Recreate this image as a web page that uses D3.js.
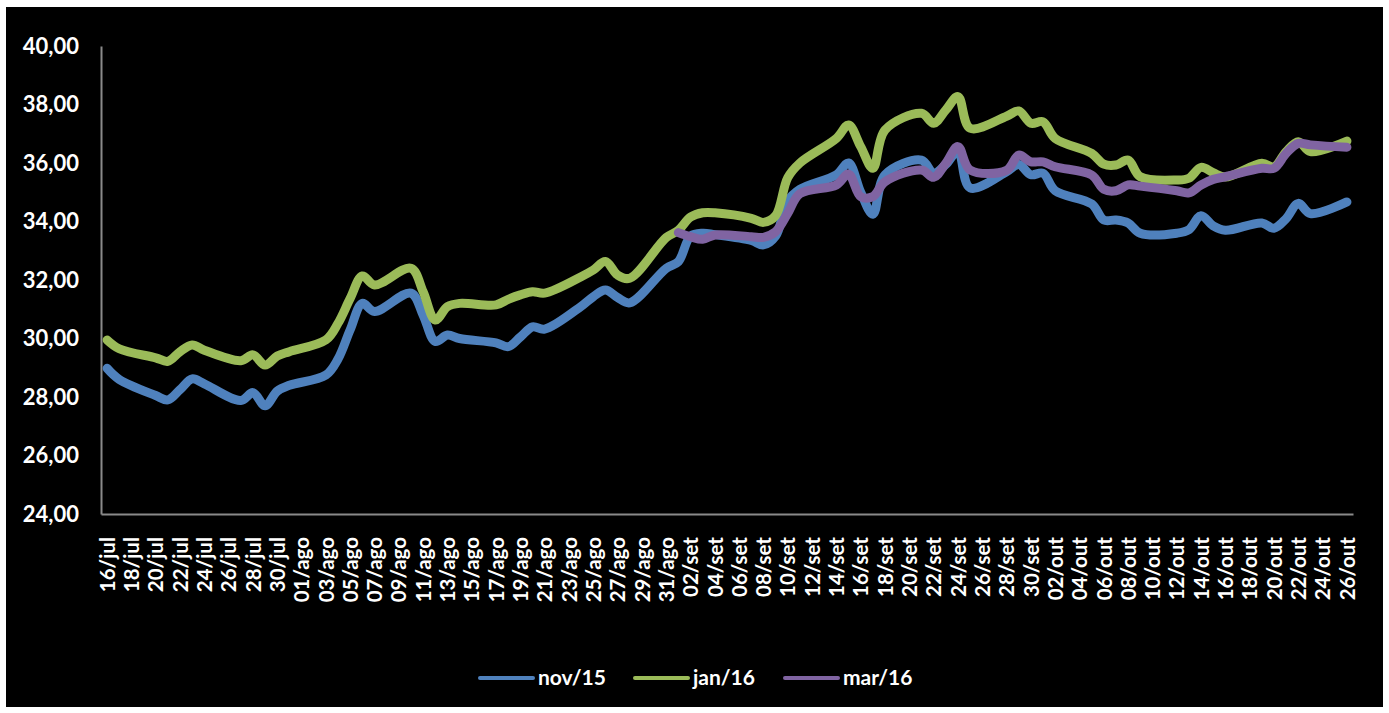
<!DOCTYPE html>
<html><head><meta charset="utf-8">
<script src="https://cdn.jsdelivr.net/npm/d3@7"></script>
<style>html,body{margin:0;padding:0;background:#fff;} svg{display:block;}</style>
</head><body><svg id="chart" width="1389" height="713"></svg>
<script>
const dates = ["16/jul","17/jul","20/jul","21/jul","22/jul","23/jul","24/jul","27/jul","28/jul","29/jul","30/jul","31/jul",
"03/ago","04/ago","05/ago","06/ago","07/ago","10/ago","11/ago","12/ago","13/ago","14/ago","17/ago","18/ago","19/ago","20/ago","21/ago","24/ago","25/ago","26/ago","27/ago","28/ago","31/ago",
"01/set","02/set","03/set","04/set","07/set","08/set","09/set","10/set","11/set","14/set","15/set","16/set","17/set","18/set","21/set","22/set","23/set","24/set","25/set","28/set","29/set","30/set",
"01/out","02/out","05/out","06/out","07/out","08/out","09/out","12/out","13/out","14/out","15/out","16/out","19/out","20/out","21/out","22/out","23/out","26/out"];

const nov15 = [28.98,28.6,28.05,27.9,28.25,28.62,28.45,27.88,28.15,27.7,28.2,28.4,
28.75,29.3,30.3,31.2,30.92,31.55,30.8,29.9,30.12,30.0,29.85,29.72,30.05,30.4,30.32,31.1,31.43,31.66,31.4,31.22,32.4,
32.63,33.5,33.6,33.55,33.35,33.2,33.5,34.7,35.1,35.6,36.0,35.0,34.25,35.6,36.1,35.65,35.95,36.4,35.15,35.7,35.95,35.6,
35.65,35.05,34.6,34.05,34.05,33.95,33.6,33.6,33.72,34.2,33.85,33.7,33.95,33.77,34.1,34.62,34.27,34.67];

const jan16 = [29.95,29.65,29.34,29.22,29.55,29.78,29.6,29.24,29.44,29.09,29.4,29.55,
29.95,30.52,31.37,32.14,31.83,32.4,31.6,30.63,31.09,31.2,31.15,31.34,31.49,31.6,31.55,32.11,32.34,32.63,32.17,32.06,33.45,
33.7,34.15,34.3,34.3,34.11,33.97,34.2,35.5,36.0,36.84,37.3,36.56,35.82,37.13,37.7,37.36,37.81,38.27,37.19,37.6,37.78,37.36,
37.41,36.84,36.33,35.96,35.93,36.1,35.53,35.42,35.48,35.85,35.67,35.52,35.99,35.87,36.39,36.73,36.39,36.75];

const mar16 = [null,null,null,null,null,null,null,null,null,null,null,null,
null,null,null,null,null,null,null,null,null,null,null,null,null,null,null,null,null,null,null,null,null,
33.62,33.48,33.39,33.54,33.48,33.46,33.65,34.28,34.95,35.25,35.62,34.85,34.85,35.36,35.76,35.51,35.99,36.56,35.76,35.75,36.27,36.04,
36.04,35.87,35.59,35.1,35.05,35.25,35.21,35.05,34.98,35.25,35.44,35.53,35.82,35.82,36.33,36.67,36.62,36.54];

const yTicks = [24,26,28,30,32,34,36,38,40];
const xTickLabels = ["16/jul","18/jul","20/jul","22/jul","24/jul","26/jul","28/jul","30/jul",
"01/ago","03/ago","05/ago","07/ago","09/ago","11/ago","13/ago","15/ago","17/ago","19/ago","21/ago","23/ago","25/ago","27/ago","29/ago","31/ago",
"02/set","04/set","06/set","08/set","10/set","12/set","14/set","16/set","18/set","20/set","22/set","24/set","26/set","28/set","30/set",
"02/out","04/out","06/out","08/out","10/out","12/out","14/out","16/out","18/out","20/out","22/out","24/out","26/out"];
const seriesNames = ["nov/15","jan/16","mar/16"];
const seriesColors = ["#4F81BD","#9BBB59","#8064A2"];

(function(){
const monthIdx = {jan:0,fev:1,mar:2,abr:3,mai:4,jun:5,jul:6,ago:7,set:8,out:9,nov:10,dez:11};
const parse = s => { const [d,m] = s.split("/"); return new Date(Date.UTC(2015, monthIdx[m], +d)); };
const DAY = 86400000;

const svg = d3.select("#chart");
const font = "Lato, 'Open Sans', sans-serif";

svg.append("rect").attr("x",6).attr("y",7).attr("width",1377).attr("height",700).attr("fill","#000");

const pLeft = 101, pRight = 1353, pTop = 46, pBottom = 514;
const first = parse(dates[0]), last = parse(dates[dates.length-1]);
const x = d3.scaleUtc().domain([new Date(+first - DAY/2), new Date(+last + DAY/2)]).range([pLeft, pRight]);
const y = d3.scaleLinear().domain([24,40]).range([pBottom, pTop]);

// Y axis
const yAxis = svg.append("g").attr("transform",`translate(${pLeft},0)`)
  .call(d3.axisLeft(y).tickValues(yTicks).tickSize(0).tickSizeOuter(0).tickPadding(22)
    .tickFormat(d => d.toFixed(2).replace(".",",")));
yAxis.select(".domain").attr("stroke","#8a8a8a").attr("stroke-width",2);
yAxis.selectAll("text").attr("fill","#fff").style("font-family",font).style("font-weight","bold").style("font-size","22px");

// X axis
const xAxis = svg.append("g").attr("transform",`translate(0,${pBottom})`)
  .call(d3.axisBottom(x).tickValues(xTickLabels.map(parse)).tickSize(0).tickSizeOuter(0)
    .tickFormat((d,i) => xTickLabels[i]));
xAxis.select(".domain").attr("stroke","#8a8a8a").attr("stroke-width",2);
xAxis.selectAll("text")
  .attr("fill","#fff").style("font-family",font).style("font-weight","bold").style("font-size","20.5px")
  .attr("text-anchor","end").attr("y",0).attr("dy","0.35em")
  .attr("transform","translate(0,23) rotate(-90)");

// Lines
const seriesData = [nov15, jan16, mar16];
const line = d3.line()
  .defined(d => d.v != null)
  .x(d => x(d.t)).y(d => y(d.v))
  .curve(d3.curveCatmullRom.alpha(0.5));
seriesData.forEach((vals, i) => {
  const pts = dates.map((s, j) => ({t: parse(s), v: vals[j]}));
  svg.append("path").datum(pts).attr("d", line)
    .attr("fill","none").attr("stroke",seriesColors[i]).attr("stroke-width",9)
    .attr("stroke-linecap","round").attr("stroke-linejoin","round");
});

// Legend
const legendX = [480, 635, 785];
const lg = svg.append("g");
seriesNames.forEach((n, i) => {
  lg.append("line").attr("x1",legendX[i]).attr("x2",legendX[i]+53).attr("y1",678).attr("y2",678)
    .attr("stroke",seriesColors[i]).attr("stroke-width",4).attr("stroke-linecap","round");
  lg.append("text").attr("x",legendX[i]+58).attr("y",678).attr("dy","0.35em")
    .attr("fill","#fff").style("font-family",font).style("font-weight","bold").style("font-size","21px")
    .text(n);
});
})();
</script></body></html>
